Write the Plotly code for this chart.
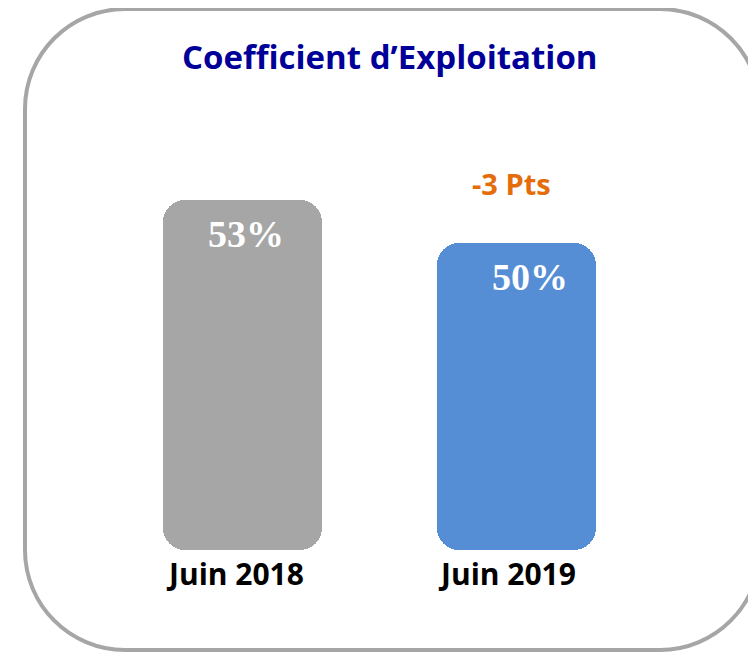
import plotly.graph_objects as go

categories = ["Juin 2018", "Juin 2019"]
values = [53, 50]
value_labels = ["53%", "50%"]
bar_colors = ["#A6A6A6", "#558ED5"]
delta_label = "-3 Pts"
title_text = "Coefficient d\u2019Exploitation"

# page body has an 8px margin; the figure is shifted accordingly
OFF = 8
W, H = 748, 648
baseline = 28.5
ppu = 14.27  # pixels per data unit
y_bottom_px = 550 - OFF  # pixel row of baseline within figure
ymin = baseline - (H - y_bottom_px) / ppu
ymax = ymin + H / ppu
xc0 = 242.5 - OFF
xstep = 274

fig = go.Figure()
fig.add_trace(go.Bar(
    x=categories, y=[v - baseline for v in values], base=baseline,
    marker=dict(color=bar_colors, cornerradius=22, line=dict(width=0)),
    width=159 / xstep, hoverinfo="skip", showlegend=False))

# value labels inside the bars
for cat, v, lab, xs in zip(categories, values, value_labels, [3.5, 13.5]):
    fig.add_annotation(x=cat, y=v, text=f"<b>{lab}</b>", showarrow=False,
                       yanchor="middle", yshift=-34, xshift=xs,
                       font=dict(family="Liberation Serif", size=38, color="white"))

# category labels
for cat, xs in zip(categories, [-7.5, -9.5]):
    fig.add_annotation(x=cat, y=baseline, text=f"<b>{cat}</b>", showarrow=False,
                       yanchor="middle", yshift=-23, xshift=xs,
                       font=dict(family="Open Sans", size=30, color="black"))

# delta label
fig.add_annotation(x=categories[1], y=values[1], text=f"<b>{delta_label}</b>",
                   showarrow=False, yanchor="middle", yshift=60, xshift=-5.5,
                   font=dict(family="Open Sans", size=29, color="#E46C0A"))

# title
fig.add_annotation(xref="paper", yref="paper", x=(390 - OFF) / W,
                   y=1 - (56 - OFF) / H,
                   text=f"<b>{title_text}</b>", showarrow=False,
                   xanchor="center", yanchor="middle",
                   font=dict(family="Open Sans", size=33, color="#000099"))

# rounded frame
def px(x, y):
    return f"{(x - OFF) / W:.5f},{1 - (y - OFF) / H:.5f}"

L, T, R, B, r = 25, 9, 760, 650, 100
k = 0.5523 * r
path = (f"M {px(L + r, T)} L {px(R - r, T)} "
        f"C {px(R - r + k, T)} {px(R, T + r - k)} {px(R, T + r)} "
        f"L {px(R, B - r)} "
        f"C {px(R, B - r + k)} {px(R - r + k, B)} {px(R - r, B)} "
        f"L {px(L + r, B)} "
        f"C {px(L + r - k, B)} {px(L, B - r + k)} {px(L, B - r)} "
        f"L {px(L, T + r)} "
        f"C {px(L, T + r - k)} {px(L + r - k, T)} {px(L + r, T)} Z")
fig.add_shape(type="path", xref="paper", yref="paper", path=path,
              line=dict(color="#A6A6A6", width=4), layer="below")

fig.update_layout(
    width=W, height=H, margin=dict(l=0, r=0, t=0, b=0),
    paper_bgcolor="white", plot_bgcolor="rgba(0,0,0,0)",
    bargap=0,
    xaxis=dict(range=[-xc0 / xstep, (W - xc0) / xstep], visible=False,
               type="category"),
    yaxis=dict(range=[ymin, ymax], visible=False),
)

fig.write_html("out.html")
